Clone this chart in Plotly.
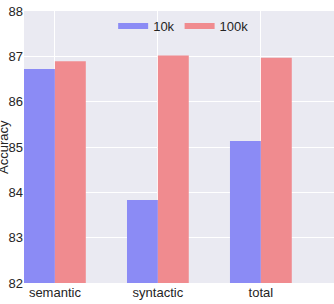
import plotly.graph_objects as go

categories = ["semantic", "syntactic", "total"]
acc_10k = [86.72, 83.83, 85.13]
acc_100k = [86.89, 87.02, 86.97]
series_names = ["10k", "100k"]
series_colors = ["rgb(139,139,245)", "rgb(240,139,143)"]

fig = go.Figure()
for name, vals, col in zip(series_names, [acc_10k, acc_100k], series_colors):
    fig.add_trace(go.Bar(x=categories, y=vals, name=name, marker_color=col,
                         marker_line_width=0, showlegend=False, legendgroup=name))
    # legend entry drawn as a wide, flat swatch
    fig.add_trace(go.Scatter(x=[None], y=[None], mode="lines", name=name,
                             line=dict(color=col, width=6), legendgroup=name))

fig.update_layout(
    template="seaborn",
    width=334, height=304,
    margin=dict(l=24, r=0, t=11, b=21),
    barmode="group", bargap=0.4, bargroupgap=0,
    plot_bgcolor="rgb(234,234,242)", paper_bgcolor="white",
    font=dict(family="Liberation Sans, Arial", size=13, color="rgb(36,36,36)"),
    legend=dict(orientation="h", x=0.515, y=1.0, xanchor="center", yanchor="top",
                bgcolor="rgba(0,0,0,0)", font=dict(size=13), itemwidth=30,
                tracegroupgap=0),
    xaxis=dict(range=[-0.3, 2.71], showgrid=True, gridcolor="white", ticks="",
               tickfont=dict(size=13), automargin=False),
    yaxis=dict(range=[82, 88], dtick=1, gridcolor="white", showgrid=True, ticks="",
               tickfont=dict(size=13), automargin=False),
    annotations=[dict(text="Accuracy", xref="paper", yref="paper", x=0, y=0.5,
                      xanchor="center", yanchor="middle", xshift=-21,
                      textangle=-90, showarrow=False, font=dict(size=13))],
)

fig.write_html("out.html")
